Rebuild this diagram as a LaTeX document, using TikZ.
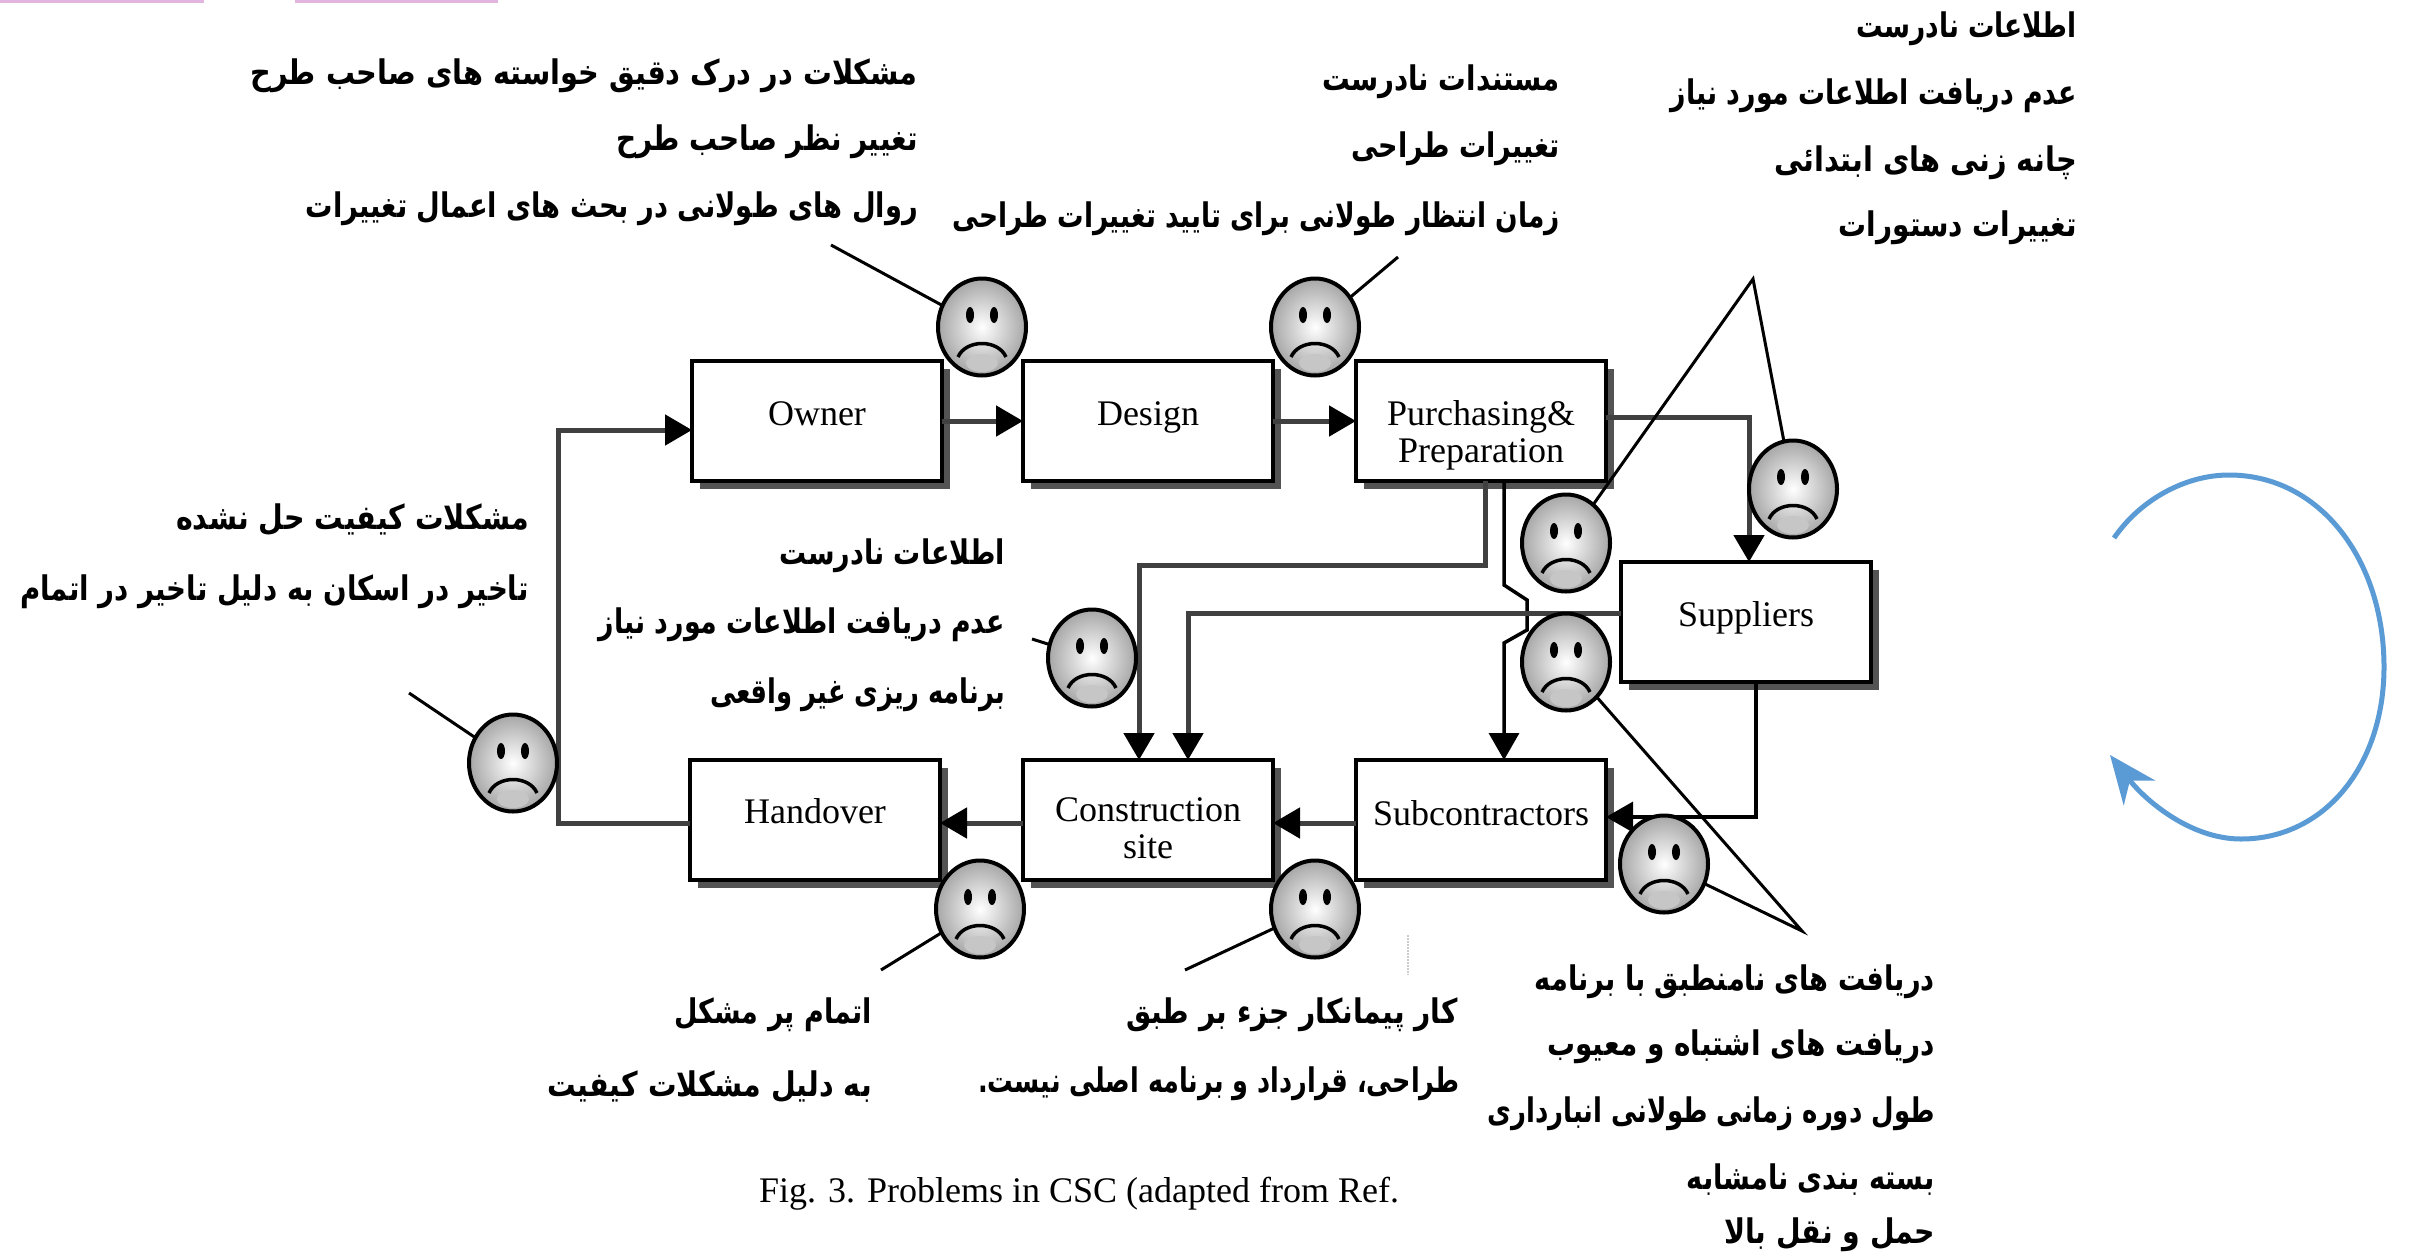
\documentclass[tikz,border=0pt]{standalone}
\usepackage{fontspec}
\usepackage{graphicx}
\usetikzlibrary{arrows.meta,shapes.geometric,calc}
\setmainfont{Liberation Serif}
\newfontfamily\arabicfont[Script=Arabic]{DejaVu Sans}
\TeXXeTstate=1
\definecolor{arcblue}{HTML}{5B9BD5}
\definecolor{pinkline}{HTML}{E2B4E0}
\definecolor{linkgray}{HTML}{404040}
\newcommand{\fa}[2]{\scalebox{#1}[1.13]{#2}}
\newcommand{\boxtext}[2]{\raisebox{#1}[0pt][0pt]{#2}}
\tikzset{
  farsi/.style={font=\arabicfont\bfseries\fontsize{30}{36}\selectfont,inner sep=0pt,anchor=base east,text=black},
  procbox/.style={draw=black,line width=4pt,fill=white,minimum width=250pt,minimum height=120pt,inner sep=0pt,outer sep=0pt,font=\fontsize{36}{37}\selectfont,preaction={draw=none,fill=gray!65!black,transform canvas={shift={(8pt,-8pt)}}}},
  link/.style={draw=linkgray,line width=5pt},
  thinlink/.style={draw=black,line width=3.5pt},
  arrowed/.style={-{Triangle[length=27pt,width=30pt,color=black]}},
  callout/.style={draw=black,line width=3pt},
  faceoval/.style={ellipse,draw=black,line width=4pt,minimum width=88pt,minimum height=97pt,inner sep=0pt,outer sep=0pt,shade,inner color=white,outer color=gray!70},
  eye/.style={fill=black,draw=none},
  mouth/.style={draw=black,line width=3.5pt}
}
\newcommand{\smiley}[3]{%
  \node[faceoval] (#1) at (#2,#3) {};
  \fill[eye] (#2-12,#3-12) ellipse (4pt and 8pt);
  \fill[eye] (#2+12,#3-12) ellipse (4pt and 8pt);
  \fill[gray!45] (#2,#3+36) ellipse (16pt and 9pt);
  \draw[mouth] (#2-24,#3+30) .. controls (#2-16,#3+12) and (#2+16,#3+12) .. (#2+24,#3+30);
}
\begin{document}
\begin{tikzpicture}[x=1pt,y=-1pt]
\useasboundingbox (0,0) rectangle (2432,1253);
\fill[white] (0,0) rectangle (2432,1253);
\fill[pinkline] (0,0) rectangle (204,2.5);
\fill[pinkline] (295,0) rectangle (498,2.5);

% boxes
\node[procbox] (owner) at (817,421) {\boxtext{-4pt}{Owner}};
\node[procbox] (design) at (1148,421) {\boxtext{-4pt}{Design}};
\node[procbox] (purch) at (1481,421) {\boxtext{-41pt}{\shortstack{\strut Purchasing\&\\[-3pt]\strut Preparation}}};
\node[procbox] (supp) at (1746,622) {\boxtext{-4pt}{Suppliers}};
\node[procbox] (hand) at (815,820) {\boxtext{-3pt}{Handover}};
\node[procbox] (cons) at (1148,820) {\boxtext{-38pt}{\shortstack{\strut Construction\\[-3pt]\strut site}}};
\node[procbox] (sub) at (1481,820) {\boxtext{-5pt}{Subcontractors}};

% connector junctions
\coordinate (j1) at (1485,565);
\coordinate (j2) at (1139,565);
\coordinate (k1) at (1504,585);
\coordinate (k2) at (1527,600);
\coordinate (k3) at (1527,630);
\coordinate (k4) at (1504,643);
\coordinate (m1) at (1188,613);
\coordinate (n1) at (1756,817);
\coordinate (p1) at (1749,417);
\coordinate (h1) at (558,823);
\coordinate (h2) at (558,430);

\draw[link,arrowed] (owner.east) -- (design.west);
\draw[link,arrowed] (design.east) -- (purch.west);
\draw[link,arrowed] (purch.east |- p1) -- (p1) -- (supp.north -| p1);
\draw[link,arrowed] (purch.south -| j1) -- (j1) -- (j2) -- (cons.north -| j2);
\draw[thinlink,arrowed] (purch.south -| k1) -- (k1) -- (k2) -- (k3) -- (k4) -- (sub.north -| k4);
\draw[link,arrowed] (supp.west |- m1) -- (m1) -- (cons.north -| m1);
\draw[thinlink,arrowed] (supp.south -| n1) -- (n1) -- (sub.east |- n1);
\draw[link,arrowed] (sub.west |- 0,823) -- (cons.east |- 0,823);
\draw[link,arrowed] (cons.west |- 0,823) -- (hand.east |- 0,823);
\draw[link,arrowed] (hand.west |- h1) -- (h1) -- (h2) -- (owner.west |- h2);

% callout free ends
\coordinate (c1) at (831,245);
\coordinate (c2) at (1398,257);
\coordinate (c3) at (1753,279);
\coordinate (c4) at (1032,639);
\coordinate (c5) at (409,693);
\coordinate (c6) at (881,970);
\coordinate (c7) at (1185,970);
\coordinate (c8) at (1802,931);

% faces
\smiley{f1}{982}{327}
\smiley{f2}{1315}{327}
\smiley{f3}{1793}{489}
\smiley{f4}{1566}{543}
\smiley{f5}{1566}{662}
\smiley{f6}{1092}{658}
\smiley{f7}{513}{763}
\smiley{f8}{980}{909}
\smiley{f9}{1315}{909}
\smiley{f10}{1664}{864}

\draw[callout] (c1) -- (f1);
\draw[callout] (c2) -- (f2);
\draw[callout] (f4) -- (c3) -- (f3);
\draw[callout] (c4) -- (f6);
\draw[callout] (c5) -- (f7);
\draw[callout] (c6) -- (f8);
\draw[callout] (c7) -- (f9);
\draw[callout] (f5) -- (c8) -- (f10);
\draw[gray!40,line width=2pt,densely dotted] (1408,935) -- (1408,975);

% blue cycle arrow
\draw[arcblue,line width=5pt,-{Stealth[length=48pt,width=40pt]}] (2114,538) .. controls (2140,500) and (2185,475) .. (2229,475) .. controls (2320,475) and (2384,560) .. (2384,667) .. controls (2384,765) and (2325,839) .. (2241,839) .. controls (2190,839) and (2145,800) .. (2110,755);

% Persian labels
\node[farsi] (t1) at (918,84) {\fa{.96}{\beginR مشکلات در درک دقیق خواسته های صاحب طرح\endR}};
\node[farsi] (t2) at (918,150) {\fa{.93}{\beginR تغییر نظر صاحب طرح\endR}};
\node[farsi] (t3) at (918,217) {\fa{.91}{\beginR روال های طولانی در بحث های اعمال تغییرات\endR}};
\node[farsi] (t4) at (1560,90) {\fa{.92}{\beginR مستندات نادرست\endR}};
\node[farsi] (t5) at (1560,157) {\fa{.90}{\beginR تغییرات طراحی\endR}};
\node[farsi] (t6) at (1560,227) {\fa{.88}{\beginR زمان انتظار طولانی برای تایید تغییرات طراحی\endR}};
\node[farsi] (t7) at (2077,37) {\fa{.88}{\beginR اطلاعات نادرست\endR}};
\node[farsi] (t8) at (2077,104) {\fa{.895}{\beginR عدم دریافت اطلاعات مورد نیاز\endR}};
\node[farsi] (t9) at (2077,171) {\fa{.96}{\beginR چانه زنی های ابتدائی\endR}};
\node[farsi] (t10) at (2077,236) {\fa{.93}{\beginR تغییرات دستورات\endR}};
\node[farsi] (t11) at (529,529) {\fa{.95}{\beginR مشکلات کیفیت حل نشده\endR}};
\node[farsi] (t12) at (529,600) {\fa{.92}{\beginR تاخیر در اسکان به دلیل تاخیر در اتمام\endR}};
\node[farsi] (t13) at (1005,564) {\fa{.90}{\beginR اطلاعات نادرست\endR}};
\node[farsi] (t14) at (1005,633) {\fa{.895}{\beginR عدم دریافت اطلاعات مورد نیاز\endR}};
\node[farsi] (t15) at (1005,703) {\fa{.86}{\beginR برنامه ریزی غیر واقعی\endR}};
\node[farsi] (t16) at (872,1023) {\fa{.90}{\beginR اتمام پر مشکل\endR}};
\node[farsi] (t17) at (872,1096) {\fa{.95}{\beginR به دلیل مشکلات کیفیت\endR}};
\node[farsi] (t18) at (1458,1023) {\fa{.94}{\beginR کار پیمانکار جزء بر طبق\endR}};
\node[farsi] (t19) at (1460,1092) {\fa{.85}{\beginR طراحی، قرارداد و برنامه اصلی نیست.\endR}};
\node[farsi] (t20) at (1935,990) {\fa{.906}{\beginR دریافت های نامنطبق با برنامه\endR}};
\node[farsi] (t21) at (1935,1055) {\fa{.93}{\beginR دریافت های اشتباه و معیوب\endR}};
\node[farsi] (t22) at (1935,1122) {\fa{.866}{\beginR طول دوره زمانی طولانی انبارداری\endR}};
\node[farsi] (t23) at (1935,1189) {\fa{.906}{\beginR بسته بندی نامشابه\endR}};
\node[farsi] (t24) at (1935,1243) {\fa{.945}{\beginR حمل و نقل بالا\endR}};

\node[font=\fontsize{36}{36}\selectfont,inner sep=0pt] (cap) at (1079,1194) {Fig. 3. Problems in CSC (adapted from Ref.};
\end{tikzpicture}
\end{document}
